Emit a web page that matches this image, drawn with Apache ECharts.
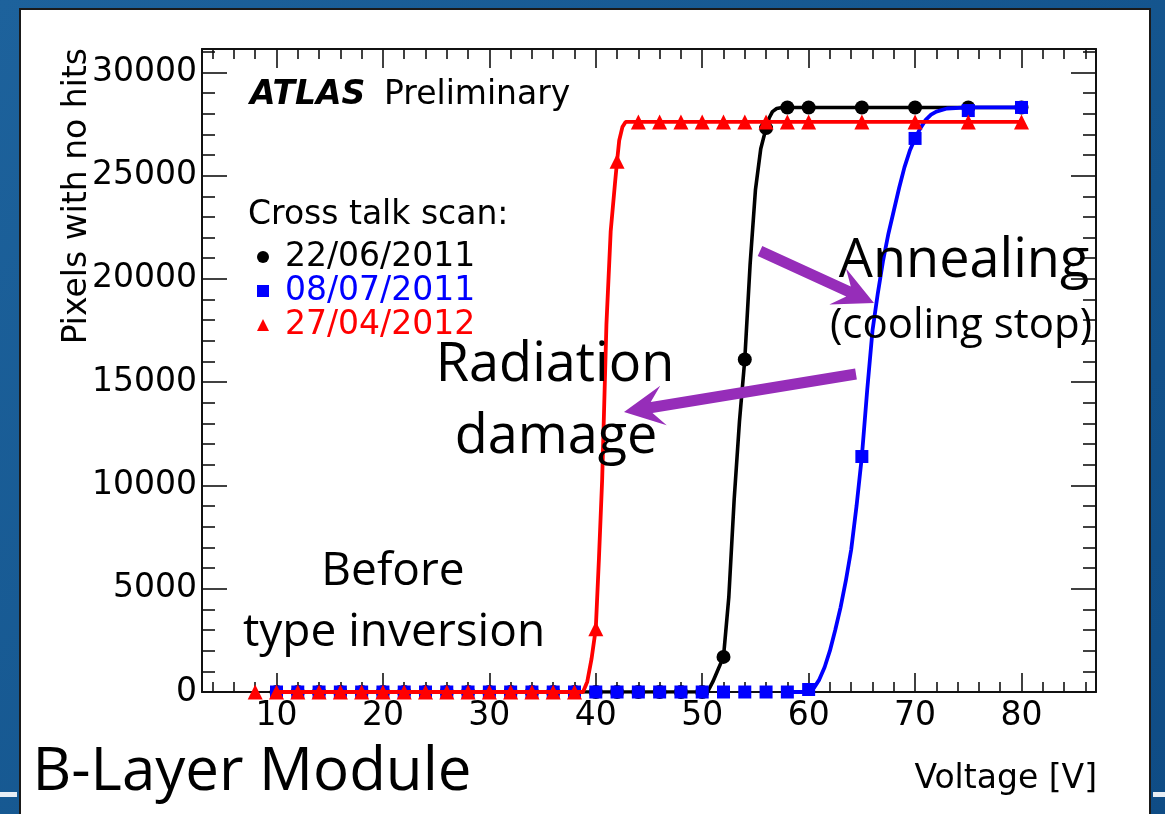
<!DOCTYPE html>
<html><head><meta charset="utf-8">
<script src="https://cdn.jsdelivr.net/npm/echarts@6/dist/echarts.min.js"></script>
<style>
html,body{margin:0;padding:0;width:1165px;height:814px;overflow:hidden;background:#165a92;}
#bg{position:absolute;left:0;top:0;width:1165px;height:814px;background:linear-gradient(135deg,#1d629c 0%,#165891 45%,#0f4c85 100%);}
#panel{position:absolute;left:19px;top:8px;width:1132px;height:820px;background:#fff;border:2px solid #1a1a1a;box-sizing:border-box;}
.deco{position:absolute;height:5px;background:#e8eef5;top:792px;}
#chart{position:absolute;left:0;top:0;width:1165px;height:814px;}
</style></head><body>
<div id="bg"></div>
<div class="deco" style="left:0;width:17px"></div>
<div class="deco" style="left:1153px;width:12px"></div>
<div id="panel"></div>
<div id="chart"></div>
<script>
// ---- data points ----
const voltsBlack = [10,12,14,16,18,20,22,24,26,28,30,32,34,36,38,40,42,44,46,48,50,52,54,56,58,60,65,70,75,80];
const hitsBlack  = [0,0,0,0,0,0,0,0,0,0,0,0,0,0,0,0,0,0,0,0,0,1700,16100,27300,28300,28300,28300,28300,28300,28300];

const voltsBlue = [10,12,14,16,18,20,22,24,26,28,30,32,34,36,38,40,42,44,46,48,50,52,54,56,58,60,65,70,75,80];
const hitsBlue  = [0,0,0,0,0,0,0,0,0,0,0,0,0,0,0,0,0,0,0,0,0,0,0,0,0,120,11400,26800,28150,28300];

const voltsRed = [8,10,12,14,16,18,20,22,24,26,28,30,32,34,36,38,40,42,44,46,48,50,52,54,56,58,60,65,70,75,80];
const hitsRed  = [0,0,0,0,0,0,0,0,0,0,0,0,0,0,0,0,3060,25700,27600,27600,27600,27600,27600,27600,27600,27600,27600,27600,27600,27600,27600];

// ---- fit curves ----
const fitBlackV = [10,50.5,51,51.5,52,52.5,53,53.5,54,54.5,55,55.5,56,56.3,56.6,57,57.5,58,80];
const fitBlackN = [0,0,500,1100,1700,4600,9300,13100,16100,20700,24300,26300,27300,27800,28100,28250,28300,28300,28300];

const fitBlueV = [58,60,60.5,61,61.5,62,62.5,63,63.5,64,64.5,65,65.5,66,66.5,67,67.5,68,68.5,69,69.5,70,70.5,71,71.5,72,73,75,80];
const fitBlueN = [0,0,200,600,1200,2000,3000,4100,5400,6900,9000,11400,14600,17500,19300,20900,22200,23300,24400,25400,26200,26800,27300,27700,27950,28100,28250,28300,28300];

const fitRedV = [10,38.8,39.2,39.6,40,40.3,40.6,41,41.4,41.8,42,42.2,42.5,42.8,43.2,80];
const fitRedN = [0,0,500,1600,3060,6500,10300,17800,22300,24600,25700,26700,27350,27600,27600,27600];

// ---- ticks ----
const xMajor = [10,20,30,40,50,60,70,80];
const xMinor = [4,6,8,12,14,16,18,22,24,26,28,32,34,36,38,42,44,46,48,52,54,56,58,62,64,66,68,72,74,76,78,82,84,86];
const yMajor = [0,5000,10000,15000,20000,25000,30000];
const yMinor = [1000,2000,3000,4000,6000,7000,8000,9000,11000,12000,13000,14000,16000,17000,18000,19000,21000,22000,23000,24000,26000,27000,28000,29000,31000];

const X_MIN = 3, X_MAX = 87, Y_MIN = 0, Y_MAX = 31130;
const FONT = '"DejaVu Sans", sans-serif';
const GILL = '"Open Sans", sans-serif';
const PURPLE = '#962db9';

const pairs = (xs, ys) => xs.map((x, i) => [x, ys[i]]);
const plain = v => String(v);

function xAx(pos, ticks, len, line, labels) {
  return {
    type: 'value', min: X_MIN, max: X_MAX, position: pos,
    axisLine: {show: line, onZero: false, lineStyle: {color: '#111', width: 2}},
    axisTick: {show: true, inside: true, length: len, customValues: ticks, lineStyle: {color: '#111', width: 1.6}},
    axisLabel: {show: labels, customValues: ticks, formatter: plain, margin: 8, color: '#000', fontSize: 33, fontFamily: FONT},
    splitLine: {show: false}
  };
}
function yAx(pos, ticks, len, line, labels) {
  return {
    type: 'value', min: Y_MIN, max: Y_MAX, position: pos,
    axisLine: {show: line, onZero: false, lineStyle: {color: '#111', width: 2}},
    axisTick: {show: true, inside: true, length: len, customValues: ticks, lineStyle: {color: '#111', width: 1.6}},
    axisLabel: {show: labels, customValues: ticks, formatter: plain, margin: 5, color: '#000', fontSize: 33, fontFamily: FONT},
    splitLine: {show: false}
  };
}

function arrow(x0, y0, x1, y1) {
  const dx = x1 - x0, dy = y1 - y0, L = Math.hypot(dx, dy);
  const ux = dx / L, uy = dy / L, nx = -uy, ny = ux;
  const headLen = 40, half = 20, w = 5.5;
  const bx = x1 - ux * headLen, by = y1 - uy * headLen;
  const pts = [
    [x0 + nx * w, y0 + ny * w],
    [bx + ux * 12 + nx * w, by + uy * 12 + ny * w],
    [bx + nx * half, by + ny * half],
    [x1, y1],
    [bx - nx * half, by - ny * half],
    [bx + ux * 12 - nx * w, by + uy * 12 - ny * w],
    [x0 - nx * w, y0 - ny * w]
  ];
  return {type: 'polygon', shape: {points: pts}, style: {fill: PURPLE}, z: 100};
}

function txt(text, x, y, font, align, extra) {
  return Object.assign({
    type: 'text', x: x, y: y, z: 100,
    style: {text: text, font: font, fill: '#000', align: align, textAlign: align, verticalAlign: 'middle', textVerticalAlign: 'middle'}
  }, extra || {});
}

const chart = echarts.init(document.getElementById('chart'), null, {renderer: 'canvas'});
chart.setOption({
  animation: false,
  backgroundColor: 'transparent',
  grid: {left: 202, right: 69, top: 49, bottom: 122, containLabel: false, outerBoundsMode: 'none'},
  xAxis: [
    xAx('bottom', xMajor, 19, true, true),
    xAx('bottom', xMinor, 10, false, false),
    xAx('top', xMajor, 19, true, false),
    xAx('top', xMinor, 10, false, false)
  ],
  yAxis: [
    yAx('left', yMajor, 25, true, true),
    yAx('left', yMinor, 13, false, false),
    yAx('right', yMajor, 25, true, false),
    yAx('right', yMinor, 13, false, false)
  ],
  legend: {
    left: 252, top: 235, orient: 'vertical', itemGap: 0, itemWidth: 12, itemHeight: 12,
    selectedMode: false,
    textStyle: {fontSize: 33, fontFamily: FONT, lineHeight: 34, padding: [0, 0, 0, 11]},
    data: [
      {name: '22/06/2011', icon: 'circle', itemStyle: {opacity: 1}, textStyle: {color: '#000'}},
      {name: '08/07/2011', icon: 'rect', itemStyle: {opacity: 1}, textStyle: {color: '#0000ff'}},
      {name: '27/04/2012', icon: 'triangle', itemStyle: {opacity: 1}, textStyle: {color: '#ff0000'}}
    ]
  },
  series: [
    {type: 'line', name: 'fit 22/06/2011', data: pairs(fitBlackV, fitBlackN), symbol: 'none', silent: true,
     lineStyle: {color: '#000', width: 3.6}, itemStyle: {color: '#000'}, z: 2},
    {type: 'scatter', name: '22/06/2011', data: pairs(voltsBlack, hitsBlack), symbol: 'circle', symbolSize: 14,
     itemStyle: {color: '#000', opacity: 1}, z: 3},
    {type: 'line', name: 'fit 08/07/2011', data: pairs(fitBlueV, fitBlueN), symbol: 'none', silent: true,
     lineStyle: {color: '#0000ff', width: 3.8}, itemStyle: {color: '#0000ff'}, z: 4},
    {type: 'scatter', name: '08/07/2011', data: pairs(voltsBlue, hitsBlue), symbol: 'rect', symbolSize: 13,
     itemStyle: {color: '#0000ff', opacity: 1}, z: 5},
    {type: 'line', name: 'fit 27/04/2012', data: pairs(fitRedV, fitRedN), symbol: 'none', silent: true,
     lineStyle: {color: '#ff0000', width: 3.8}, itemStyle: {color: '#ff0000'}, z: 6},
    {type: 'scatter', name: '27/04/2012', data: pairs(voltsRed, hitsRed), symbol: 'triangle', symbolSize: 15,
     itemStyle: {color: '#ff0000', opacity: 1}, z: 7}
  ],
  graphic: {elements: [
    txt('ATLAS', 250, 95, 'italic bold 33px ' + FONT, 'left'),
    txt('Preliminary', 384, 95, '33px ' + FONT, 'left'),
    txt('Cross talk scan:', 248, 215, '33px ' + FONT, 'left'),
    txt('Pixels with no hits', 77, 48, '33px ' + FONT, 'right', {rotation: Math.PI / 2}),
    txt('Voltage [V]', 1097, 779, '33px ' + FONT, 'right'),
    txt('Annealing', 964, 262, '54px ' + GILL, 'center'),
    txt('(cooling stop)', 961, 326, '42px ' + GILL, 'center'),
    txt('Radiation', 555, 366, '54px ' + GILL, 'center'),
    txt('damage', 556, 438, '54px ' + GILL, 'center'),
    txt('Before', 393, 572, '46px ' + GILL, 'center'),
    txt('type inversion', 394, 633, '46px ' + GILL, 'center'),
    txt('B-Layer Module', 252, 773, '60px ' + GILL, 'center'),
    arrow(760, 251, 874, 303),
    arrow(856, 374, 624, 412)
  ]}
});
</script>
</body></html>
